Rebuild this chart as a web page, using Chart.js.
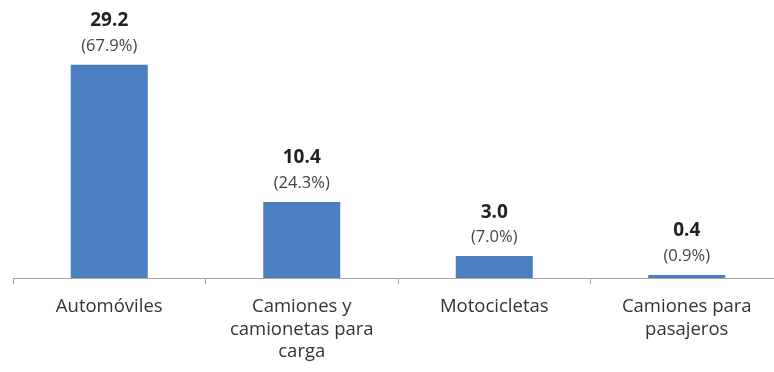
<!DOCTYPE html>
<html>
<head>
<meta charset="utf-8">
<script src="https://cdn.jsdelivr.net/npm/chart.js@4.4.1/dist/chart.umd.min.js"></script>
<style>
  html, body { margin: 0; padding: 0; background: #fff; overflow: hidden; }
  #wrap { width: 784px; height: 372px; }
</style>
</head>
<body>
<div id="wrap"><canvas id="c" width="784" height="372"></canvas></div>
<script>
// Vehículos registrados por tipo (millones) y su participación
const categories = [
  ["Automóviles"],
  ["Camiones y", "camionetas para", "carga"],
  ["Motocicletas"],
  ["Camiones para", "pasajeros"]
];
const values = [29.2, 10.4, 3.0, 0.4];
const shares = [67.9, 24.3, 7.0, 0.9];

// Draws the value and share above each bar
const barLabels = {
  id: 'barLabels',
  afterDatasetsDraw(chart) {
    const ctx = chart.ctx;
    const meta = chart.getDatasetMeta(0);
    ctx.save();
    ctx.textAlign = 'center';
    ctx.textBaseline = 'middle';
    meta.data.forEach((bar, i) => {
      const { x, y } = bar.getProps(['x', 'y'], true);
      ctx.fillStyle = '#222';
      ctx.font = 'bold 19px "Open Sans"';
      ctx.fillText(values[i].toFixed(1), x, y - 44);
      ctx.fillStyle = '#444';
      ctx.font = '16.5px "Open Sans"';
      ctx.fillText('(' + shares[i].toFixed(1) + '%)', x, y - 19);
    });
    ctx.restore();
  }
};

new Chart(document.getElementById('c'), {
  type: 'bar',
  data: {
    labels: categories,
    datasets: [{
      data: values,
      backgroundColor: '#4A7EBF',
      borderColor: '#4A7EBF',
      borderWidth: 0,
      barPercentage: 0.4,
      categoryPercentage: 1.0
    }]
  },
  options: {
    responsive: false,
    animation: false,
    layout: { padding: { top: 22.5, left: 13, right: 1, bottom: 0 } },
    plugins: { legend: { display: false }, tooltip: { enabled: false } },
    scales: {
      y: { display: false, min: 0, max: 35 },
      x: {
        afterFit(scale) { scale.height = 94; },
        border: { display: true, color: '#a6a6a6', width: 1 },
        grid: {
          offset: true,
          drawOnChartArea: false,
          drawTicks: true,
          tickLength: 6,
          color: '#a6a6a6'
        },
        ticks: {
          color: '#333',
          font: { family: '"Open Sans"', size: 18.5, lineHeight: 1.2 },
          padding: 12,
          maxRotation: 0,
          autoSkip: false
        }
      }
    }
  },
  plugins: [barLabels]
});
</script>
</body>
</html>
